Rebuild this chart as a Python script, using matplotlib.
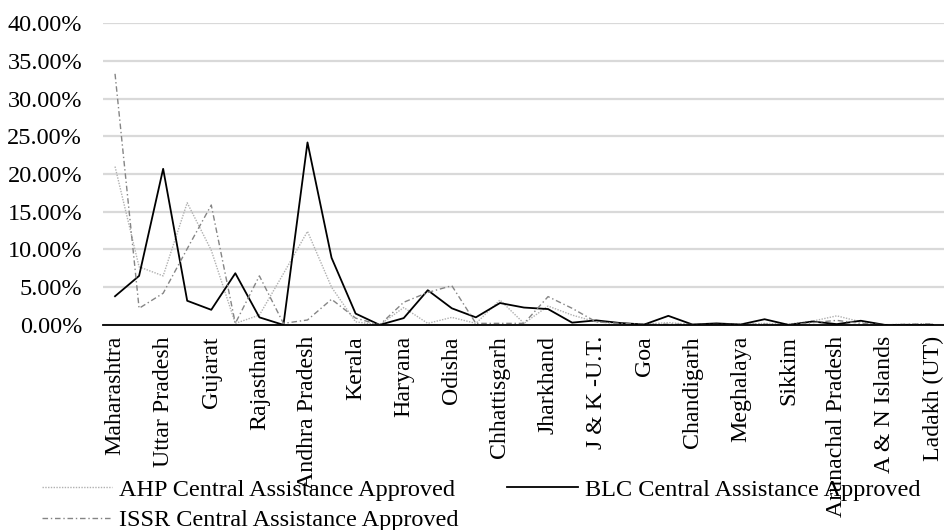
import matplotlib
matplotlib.use("Agg")
import matplotlib.pyplot as plt
import numpy as np

plt.rcParams['font.family'] = ['Liberation Serif', 'DejaVu Serif']

# states in chart order (only every second name fits on the axis)
states = ['Maharashtra', 'Tamil Nadu', 'Uttar Pradesh', 'Karnataka', 'Gujarat',
          'Madhya Pradesh', 'Rajasthan', 'West Bengal', 'Andhra Pradesh', 'Telangana',
          'Kerala', 'Bihar', 'Haryana', 'Punjab', 'Odisha', 'Assam', 'Chhattisgarh',
          'Tripura', 'Jharkhand', 'Uttarakhand', 'J & K -U.T.', 'Himachal Pradesh',
          'Goa', 'Puducherry', 'Chandigarh', 'Manipur', 'Meghalaya', 'Mizoram',
          'Sikkim', 'Nagaland', 'Arunachal Pradesh', 'Delhi', 'A & N Islands',
          'DNH & DD', 'Ladakh (UT)']

# share of central assistance approved, in percent
ahp = [21.0, 7.7, 6.5, 16.2, 9.9, 0.2, 1.3, 6.8, 12.4, 5.0, 0.4, 0.0, 2.3, 0.2,
       1.0, 0.2, 3.3, 0.2, 2.5, 1.3, 0.4, 0.2, 0.1, 0.3, 0.05, 0.1, 0.1, 0.2,
       0.1, 0.5, 1.2, 0.4, 0.0, 0.1, 0.15]
blc = [3.8, 6.5, 20.7, 3.2, 2.0, 6.85, 1.0, 0.0, 24.2, 8.9, 1.5, 0.0, 0.9, 4.6,
       2.2, 1.0, 2.9, 2.3, 2.1, 0.3, 0.6, 0.25, 0.05, 1.2, 0.05, 0.2, 0.05, 0.75,
       0.0, 0.45, 0.1, 0.55, 0.0, 0.0, 0.0]
issr = [33.3, 2.2, 4.2, 10.1, 15.9, 0.2, 6.5, 0.2, 0.65, 3.4, 0.9, 0.0, 3.0, 4.3,
        5.2, 0.2, 0.2, 0.2, 3.75, 2.2, 0.4, 0.2, 0.05, 0.1, 0.05, 0.05, 0.05, 0.1,
        0.0, 0.3, 0.6, 0.2, 0.0, 0.1, 0.15]

x = np.arange(len(states))

fig = plt.figure(figsize=(9.45, 5.3), dpi=100)
ax = fig.add_axes([0.109, 0.387, 0.891, 0.569])

l_ahp, = ax.plot(x, np.array(ahp) / 100, color='#b0b0b0', lw=1.0, ls=(0, (1, 1)))
l_blc, = ax.plot(x, np.array(blc) / 100, color='black', lw=1.3)
l_issr, = ax.plot(x, np.array(issr) / 100, color='#858585', lw=1.0,
                  ls=(0, (4, 2, 1, 2)))

ax.set_xlim(-0.5, len(states) - 0.5)
ax.set_ylim(0, 0.40)
yt = np.arange(0, 0.401, 0.05)
ax.set_yticks(yt)
ax.set_yticklabels(['%.2f%%' % (v * 100) for v in yt])
ax.yaxis.grid(True, color='#d9d9d9', lw=1.6)
ax.set_axisbelow(True)

ax.set_xticks(x[::2])
ax.set_xticklabels(states[::2], rotation=90, va='top', fontsize=17.2)
ax.tick_params(axis='both', length=0)
ax.tick_params(axis='x', pad=8)
ax.tick_params(axis='y', pad=15, labelsize=17.5)

for side in ['top', 'right', 'left']:
    ax.spines[side].set_visible(False)
ax.spines['bottom'].set_color('black')
ax.spines['bottom'].set_linewidth(1.3)

fig.legend([l_ahp, l_issr, l_blc],
           ['AHP Central Assistance Approved', 'ISSR Central Assistance Approved',
            'BLC Central Assistance Approved'],
           ncol=2, loc='upper left', bbox_to_anchor=(0.044, 0.097),
           frameon=False, fontsize=17.5, handlelength=2.9, handletextpad=0.3,
           columnspacing=2.0, labelspacing=0.35, borderpad=0, borderaxespad=0)

fig.savefig('out.png', dpi=100)
